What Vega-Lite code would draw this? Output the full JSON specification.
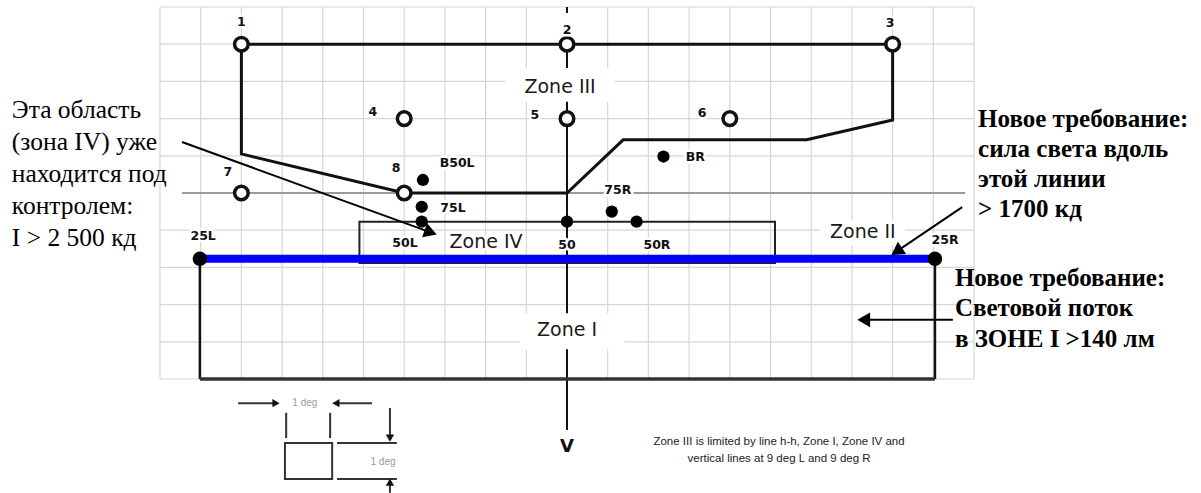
{
  "$schema": "https://vega.github.io/schema/vega-lite/v6.json",
  "width": 1201,
  "height": 493,
  "autosize": {"type": "none"},
  "padding": 0,
  "background": "white",
  "config": {"view": {"stroke": null}},
  "datasets": {
    "grid_v": [{"x":-10,"y":-5,"y2":5},{"x":-9,"y":-5,"y2":5},{"x":-8,"y":-5,"y2":5},{"x":-7,"y":-5,"y2":5},{"x":-6,"y":-5,"y2":5},{"x":-5,"y":-5,"y2":5},{"x":-4,"y":-5,"y2":5},{"x":-3,"y":-5,"y2":5},{"x":-2,"y":-5,"y2":5},{"x":-1,"y":-5,"y2":5},{"x":1,"y":-5,"y2":5},{"x":2,"y":-5,"y2":5},{"x":3,"y":-5,"y2":5},{"x":4,"y":-5,"y2":5},{"x":5,"y":-5,"y2":5},{"x":6,"y":-5,"y2":5},{"x":7,"y":-5,"y2":5},{"x":8,"y":-5,"y2":5},{"x":9,"y":-5,"y2":5},{"x":10,"y":-5,"y2":5}],
    "grid_h": [{"y":-5,"x":-10,"x2":10},{"y":-4,"x":-10,"x2":10},{"y":-3,"x":-10,"x2":10},{"y":-2,"x":-10,"x2":10},{"y":-1,"x":-10,"x2":10},{"y":1,"x":-10,"x2":10},{"y":2,"x":-10,"x2":10},{"y":3,"x":-10,"x2":10},{"y":4,"x":-10,"x2":10},{"y":5,"x":-10,"x2":10}],
    "segments": [
      {"part":"h-h","x":-9.46,"y":0,"x2":9.78,"y2":0},
      {"part":"v","x":0,"y":5.0,"x2":0,"y2":4.84},
      {"part":"v","x":0,"y":3.93,"x2":0,"y2":-6.37},
      {"part":"zone I side","x":-9.02,"y":-1.77,"x2":-9.02,"y2":-5},
      {"part":"zone I side","x":9.04,"y":-1.77,"x2":9.04,"y2":-5},
      {"part":"zone I bottom","x":-9.02,"y":-5,"x2":9.04,"y2":-5},
      {"part":"25L-25R","x":-9.02,"y":-1.77,"x2":9.04,"y2":-1.77},
      {"part":"arrow","x":-9.46,"y":1.37,"x2":-3.35,"y2":-1.06},
      {"part":"arrow","x":9.71,"y":-0.38,"x2":8.1,"y2":-1.57},
      {"part":"arrow","x":9.48,"y":-3.41,"x2":7.29,"y2":-3.41},
      {"part":"scale","x":-6.9,"y":-5.91,"x2":-6.9,"y2":-6.59},
      {"part":"scale","x":-5.82,"y":-5.91,"x2":-5.82,"y2":-6.59},
      {"part":"scale","x":-5.65,"y":-6.72,"x2":-4.18,"y2":-6.72},
      {"part":"scale","x":-5.65,"y":-7.69,"x2":-4.18,"y2":-7.69},
      {"part":"scale","x":-8.08,"y":-5.65,"x2":-7.15,"y2":-5.65},
      {"part":"scale","x":-5.68,"y":-5.65,"x2":-4.79,"y2":-5.65},
      {"part":"scale","x":-4.35,"y":-5.78,"x2":-4.35,"y2":-6.59},
      {"part":"scale","x":-4.35,"y":-8.06,"x2":-4.35,"y2":-7.77}
    ],
    "zone3": [
      {"i":0,"x":-8,"y":4},{"i":1,"x":8,"y":4},{"i":2,"x":8,"y":1.96},{"i":3,"x":5.89,"y":1.43},
      {"i":4,"x":1.38,"y":1.43},{"i":5,"x":0,"y":0},{"i":6,"x":-4,"y":0},{"i":7,"x":-8,"y":1.05},{"i":8,"x":-8,"y":4}
    ],
    "boxes": [
      {"part":"mask","x":-1.52,"x2":1.18,"y":3.36,"y2":2.45},
      {"part":"mask","x":-1.15,"x2":1.42,"y":-3.23,"y2":-4.2},
      {"part":"mask","x":6.22,"x2":8.3,"y":-0.73,"y2":-1.4},
      {"part":"zone IV","x":-5.1,"x2":5.11,"y":-0.77,"y2":-1.88},
      {"part":"scale box","x":-6.93,"x2":-5.77,"y":-6.72,"y2":-7.69}
    ],
    "points": [
      {"name":"1","kind":"open","x":-8,"y":4},
      {"name":"2","kind":"open","x":0,"y":4},
      {"name":"3","kind":"open","x":8,"y":4},
      {"name":"4","kind":"open","x":-4,"y":2},
      {"name":"5","kind":"open","x":0,"y":2},
      {"name":"6","kind":"open","x":4,"y":2},
      {"name":"7","kind":"open","x":-8,"y":0},
      {"name":"8","kind":"open","x":-4,"y":0},
      {"name":"B50L","kind":"filled","x":-3.54,"y":0.35},
      {"name":"75L","kind":"filled","x":-3.57,"y":-0.37},
      {"name":"50L","kind":"filled","x":-3.57,"y":-0.77},
      {"name":"50V","kind":"filled","x":0,"y":-0.77},
      {"name":"75R","kind":"filled","x":1.1,"y":-0.5},
      {"name":"50R","kind":"filled","x":1.71,"y":-0.77},
      {"name":"BR","kind":"filled","x":2.37,"y":0.98},
      {"name":"25L","kind":"end","x":-9.02,"y":-1.77},
      {"name":"25R","kind":"end","x":9.04,"y":-1.77}
    ],
    "heads": [
      {"name":"to zone IV","x":-3.35,"y":-1.06},
      {"name":"to 25L-25R","x":8.1,"y":-1.57},
      {"name":"to zone I","x":7.29,"y":-3.41},
      {"name":"scale","dir":"right","x":-7.15,"y":-5.65},
      {"name":"scale","dir":"left","x":-5.68,"y":-5.65},
      {"name":"scale","dir":"down","x":-4.35,"y":-6.59},
      {"name":"scale","dir":"up","x":-4.35,"y":-7.77}
    ],
    "labels": [
      {"x":-8,"y":4.6,"label":"1","style":"point"},
      {"x":0,"y":4.38,"label":"2","style":"point"},
      {"x":7.94,"y":4.57,"label":"3","style":"point"},
      {"x":-4.77,"y":2.18,"label":"4","style":"point"},
      {"x":-0.79,"y":2.1,"label":"5","style":"point"},
      {"x":3.32,"y":2.15,"label":"6","style":"point"},
      {"x":-8.33,"y":0.57,"label":"7","style":"point"},
      {"x":-4.2,"y":0.67,"label":"8","style":"point"},
      {"x":-2.7,"y":0.81,"label":"B50L","style":"point"},
      {"x":3.15,"y":0.97,"label":"BR","style":"point"},
      {"x":-2.8,"y":-0.4,"label":"75L","style":"point"},
      {"x":1.25,"y":0.08,"label":"75R","style":"point"},
      {"x":-3.98,"y":-1.34,"label":"50L","style":"point"},
      {"x":0,"y":-1.4,"label":"50","style":"point"},
      {"x":2.21,"y":-1.4,"label":"50R","style":"point"},
      {"x":-8.94,"y":-1.16,"label":"25L","style":"point"},
      {"x":9.29,"y":-1.26,"label":"25R","style":"point"},
      {"x":-0.17,"y":2.85,"label":"Zone III","style":"zone"},
      {"x":-1.99,"y":-1.32,"label":"Zone IV","style":"zone"},
      {"x":7.27,"y":-1.05,"label":"Zone II","style":"zone"},
      {"x":0,"y":-3.68,"label":"Zone I","style":"zone"},
      {"x":0,"y":-6.83,"label":"V","style":"axis"},
      {"x":-6.44,"y":-5.65,"label":"1 deg","style":"scale"},
      {"x":-4.52,"y":-7.22,"label":"1 deg","style":"scale"}
    ],
    "notes": [
      {"block":"left","x":-13.64,"y":2.02},
      {"block":"right1","x":10.1,"y":1.77},
      {"block":"right2","x":9.53,"y":-2.5},
      {"block":"footnote","x":5.21,"y":-6.77}
    ]
  },
  "encoding": {
    "x": {"field":"x","type":"quantitative","scale":{"domain":[-13.931,15.577],"nice":false,"zero":false},"axis":null},
    "y": {"field":"y","type":"quantitative","scale":{"domain":[-8.065,5.188],"nice":false,"zero":false},"axis":null}
  },
  "layer": [
    {"data":{"name":"grid_v"},"mark":{"type":"rule","color":"#d6d6d6","strokeWidth":1.2},
     "encoding":{"y2":{"field":"y2"}}},
    {"data":{"name":"grid_h"},"mark":{"type":"rule","color":"#d6d6d6","strokeWidth":1.2},
     "encoding":{"x2":{"field":"x2"}}},
    {"data":{"name":"segments"},"transform":[{"filter":"datum.part === 'h-h'"}],
     "mark":{"type":"rule","color":"#9a9a9a","strokeWidth":2},
     "encoding":{"x2":{"field":"x2"},"y2":{"field":"y2"}}},
    {"data":{"name":"segments"},"transform":[{"filter":"datum.part === 'v'"}],
     "mark":{"type":"rule","color":"#111111","strokeWidth":2},
     "encoding":{"x2":{"field":"x2"},"y2":{"field":"y2"}}},
    {"data":{"name":"boxes"},"transform":[{"filter":"datum.part === 'mask'"}],
     "mark":{"type":"rect","fill":"white"},
     "encoding":{"x2":{"field":"x2"},"y2":{"field":"y2"}}},
    {"data":{"name":"zone3"},
     "mark":{"type":"line","color":"#111111","strokeWidth":3,"strokeJoin":"miter"},
     "encoding":{"order":{"field":"i","type":"quantitative"}}},
    {"data":{"name":"boxes"},"transform":[{"filter":"datum.part === 'zone IV'"}],
     "mark":{"type":"rect","fill":"white","fillOpacity":0,"stroke":"#222222","strokeWidth":2},
     "encoding":{"x2":{"field":"x2"},"y2":{"field":"y2"}}},
    {"data":{"name":"segments"},"transform":[{"filter":"datum.part === 'zone I side'"}],
     "mark":{"type":"rule","color":"#111111","strokeWidth":2.5},
     "encoding":{"x2":{"field":"x2"},"y2":{"field":"y2"}}},
    {"data":{"name":"segments"},"transform":[{"filter":"datum.part === 'zone I bottom'"}],
     "mark":{"type":"rule","color":"#333333","strokeWidth":3.5},
     "encoding":{"x2":{"field":"x2"},"y2":{"field":"y2"}}},
    {"data":{"name":"segments"},"transform":[{"filter":"datum.part === '25L-25R'"}],
     "mark":{"type":"rule","color":"#0000ff","strokeWidth":8},
     "encoding":{"x2":{"field":"x2"},"y2":{"field":"y2"}}},
    {"data":{"name":"segments"},"transform":[{"filter":"datum.part === 'arrow'"}],
     "mark":{"type":"rule","color":"#000000","strokeWidth":2},
     "encoding":{"x2":{"field":"x2"},"y2":{"field":"y2"}}},
    {"data":{"name":"segments"},"transform":[{"filter":"datum.part === 'scale'"}],
     "mark":{"type":"rule","color":"#333333","strokeWidth":2},
     "encoding":{"x2":{"field":"x2"},"y2":{"field":"y2"}}},
    {"data":{"name":"boxes"},"transform":[{"filter":"datum.part === 'scale box'"}],
     "mark":{"type":"rect","fill":"white","fillOpacity":0,"stroke":"#333333","strokeWidth":2},
     "encoding":{"x2":{"field":"x2"},"y2":{"field":"y2"}}},
    {"data":{"name":"heads"},"transform":[{"filter":"datum.name === 'to zone IV'"}],
     "mark":{"type":"point","shape":"triangle-right","angle":20,"size":220,"filled":true,"color":"#000000","opacity":1}},
    {"data":{"name":"heads"},"transform":[{"filter":"datum.name === 'to 25L-25R'"}],
     "mark":{"type":"point","shape":"triangle-right","angle":146,"size":220,"filled":true,"color":"#000000","opacity":1}},
    {"data":{"name":"heads"},"transform":[{"filter":"datum.name === 'to zone I'"}],
     "mark":{"type":"point","shape":"triangle-left","size":220,"filled":true,"color":"#000000","opacity":1}},
    {"data":{"name":"heads"},"transform":[{"filter":"datum.name === 'scale'"}],
     "mark":{"type":"point","size":70,"filled":true,"color":"#111111","opacity":1},
     "encoding":{"shape":{"field":"dir","type":"nominal","legend":null,
       "scale":{"domain":["right","left","down","up"],"range":["triangle-right","triangle-left","triangle-down","triangle-up"]}}}},
    {"data":{"name":"points"},"transform":[{"filter":"datum.kind === 'open'"}],
     "mark":{"type":"point","shape":"circle","filled":true,"fill":"white","stroke":"#111111","strokeWidth":3.5,"size":185,"opacity":1}},
    {"data":{"name":"points"},"transform":[{"filter":"datum.kind === 'filled'"}],
     "mark":{"type":"point","shape":"circle","filled":true,"color":"#000000","size":150,"opacity":1}},
    {"data":{"name":"points"},"transform":[{"filter":"datum.kind === 'end'"}],
     "mark":{"type":"point","shape":"circle","filled":true,"color":"#000000","size":210,"opacity":1}},
    {"data":{"name":"labels"},"transform":[{"filter":"datum.style === 'point'"}],
     "mark":{"type":"text","font":"DejaVu Sans","fontWeight":"bold","fontSize":12.5,"align":"center","baseline":"middle","stroke":"white","strokeWidth":5,"strokeJoin":"round","fill":"white"},
     "encoding":{"text":{"field":"label"}}},
    {"data":{"name":"labels"},"transform":[{"filter":"datum.style === 'point'"}],
     "mark":{"type":"text","font":"DejaVu Sans","fontWeight":"bold","fontSize":12.5,"align":"center","baseline":"middle","color":"#111111"},
     "encoding":{"text":{"field":"label"}}},
    {"data":{"name":"labels"},"transform":[{"filter":"datum.style === 'zone'"}],
     "mark":{"type":"text","font":"DejaVu Sans","fontSize":19,"align":"center","baseline":"middle","stroke":"white","strokeWidth":6,"strokeJoin":"round","fill":"white"},
     "encoding":{"text":{"field":"label"}}},
    {"data":{"name":"labels"},"transform":[{"filter":"datum.style === 'zone'"}],
     "mark":{"type":"text","font":"DejaVu Sans","fontSize":19,"align":"center","baseline":"middle","color":"#1a1a1a"},
     "encoding":{"text":{"field":"label"}}},
    {"data":{"name":"labels"},"transform":[{"filter":"datum.style === 'axis'"}],
     "mark":{"type":"text","font":"DejaVu Sans","fontWeight":"bold","fontSize":18,"align":"center","baseline":"middle","color":"#111111"},
     "encoding":{"text":{"field":"label"}}},
    {"data":{"name":"labels"},"transform":[{"filter":"datum.style === 'scale'"}],
     "mark":{"type":"text","font":"Liberation Sans","fontSize":10,"align":"center","baseline":"middle","color":"#9a9a9a"},
     "encoding":{"text":{"field":"label"}}},
    {"data":{"name":"notes"},"transform":[{"filter":"datum.block === 'left'"}],
     "mark":{"type":"text","font":"Liberation Serif","fontSize":25.5,"align":"left","baseline":"alphabetic","lineHeight":32,"color":"#000000",
       "text":["Эта область","(зона IV) уже","находится под","контролем:","I > 2 500 кд"]}},
    {"data":{"name":"notes"},"transform":[{"filter":"datum.block === 'right1'"}],
     "mark":{"type":"text","font":"Liberation Serif","fontWeight":"bold","fontSize":25,"align":"left","baseline":"alphabetic","lineHeight":30,"color":"#000000",
       "text":["Новое требование:","сила света вдоль","этой линии","> 1700  кд"]}},
    {"data":{"name":"notes"},"transform":[{"filter":"datum.block === 'right2'"}],
     "mark":{"type":"text","font":"Liberation Serif","fontWeight":"bold","fontSize":25,"align":"left","baseline":"alphabetic","lineHeight":30.5,"color":"#000000",
       "text":["Новое требование:","Световой поток","в ЗОНЕ I >140 лм"]}},
    {"data":{"name":"notes"},"transform":[{"filter":"datum.block === 'footnote'"}],
     "mark":{"type":"text","font":"Liberation Sans","fontSize":11.5,"align":"center","baseline":"alphabetic","lineHeight":17,"color":"#222222",
       "text":["Zone III is limited by line h-h, Zone I, Zone IV and","vertical lines at 9 deg L and 9 deg R"]}}
  ]
}
